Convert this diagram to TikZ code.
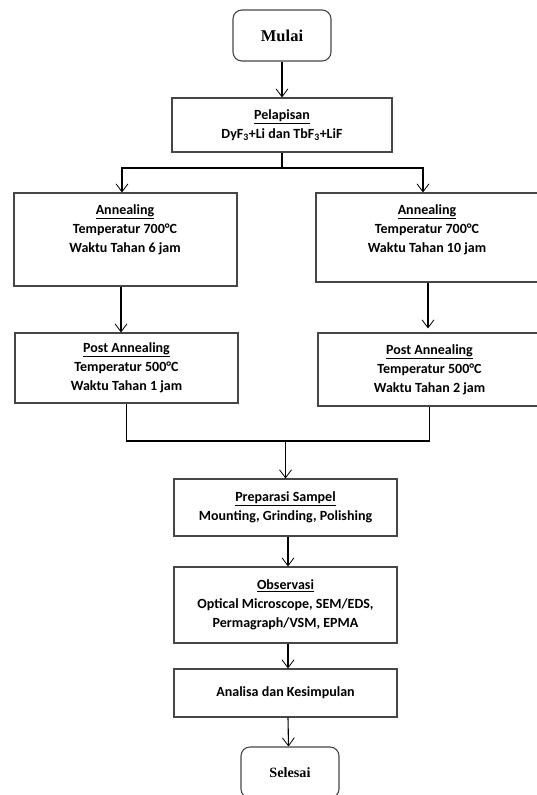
\documentclass[tikz,border=0pt]{standalone}
\usepackage{fontspec}
\setmainfont{Carlito}
\newfontfamily\serifbf{Liberation Serif}
\usetikzlibrary{arrows.meta}
\definecolor{boxgray}{RGB}{70,70,70}
\begin{document}
\begin{tikzpicture}[x=1pt,y=-1pt,
  box/.style={draw=boxgray, line width=1.1pt, rectangle, inner sep=0pt,
    align=center, font=\fontsize{14}{19}\selectfont\bfseries},
  endbox/.style={box, rounded corners=9pt, minimum width=98pt, minimum height=51pt,
    font=\fontsize{15}{18}\selectfont\serifbf\bfseries},
  intxt/.style={anchor=north, align=center, inner sep=0pt,
    font=\fontsize{14}{19}\selectfont\bfseries},
  arr/.style={-{Straight Barb[length=8pt,width=12pt,line width=0.8pt]}, line width=1.1pt, black},
  conn/.style={line width=1.1pt, black}]
\useasboundingbox (0,0) rectangle (537,795);
\clip (0,0) rectangle (537,795);

% nodes
\node[endbox, font=\fontsize{16.5}{18}\selectfont\serifbf\bfseries] (mulai) at (282,35.5) {Mulai};
\node[box, minimum width=220pt, minimum height=54pt] (pel) at (282,125)
  {\underline{Pelapisan}\\DyF\textsubscript{3}+Li dan TbF\textsubscript{3}+LiF};
\node[box, minimum width=223pt, minimum height=93pt] (ann1) at (125.5,239.5) {};
\node[intxt] (ann1t) at (125,204.5)
  {\underline{Annealing}\\Temperatur 700°C\\Waktu Tahan 6 jam};
\node[box, minimum width=223pt, minimum height=89pt] (ann2) at (427.5,237.5) {};
\node[intxt] (ann2t) at (427,204.5)
  {\underline{Annealing}\\Temperatur 700°C\\Waktu Tahan 10 jam};
\node[box, minimum width=223pt, minimum height=70pt] (post1) at (126.5,368)
  {\underline{Post Annealing}\\Temperatur 500°C\\Waktu Tahan 1 jam};
\node[box, minimum width=223pt, minimum height=73pt] (post2) at (429.5,369.5)
  {\underline{Post Annealing}\\Temperatur 500°C\\Waktu Tahan 2 jam};
\node[box, minimum width=223pt, minimum height=57pt] (prep) at (285.5,507.5)
  {\underline{Preparasi Sampel}\\Mounting, Grinding, Polishing};
\node[box, minimum width=223pt, minimum height=76pt] (obs) at (285.5,605)
  {\underline{Observasi}\\Optical Microscope, SEM/EDS,\\Permagraph/VSM, EPMA};
\node[box, minimum width=223pt, minimum height=48pt] (ana) at (285.5,693)
  {Analisa dan Kesimpulan};
\node[endbox, font=\fontsize{14.2}{18}\selectfont\serifbf\bfseries] (sel) at (290,772.5) {Selesai};

% connectors
\coordinate (split) at (282,168);
\coordinate (mid) at (285.5,441);
\draw[arr] (mulai.south) -- (pel.north);
\draw[conn] (pel.south) -- (split);
\draw[arr] (split) -| ([xshift=-3.5pt]ann1.north);
\draw[arr] (split) -| ([xshift=-4.5pt]ann2.north);
\draw[arr] ([xshift=-4.5pt]ann1.south) -- ([xshift=-5.5pt]post1.north);
\draw[arr, shorten >=4pt] ([xshift=0.5pt]ann2.south) -- ([xshift=-1.5pt]post2.north);
\draw[conn] (post1.south) -- (post1.south |- mid) -- (post2.south |- mid) -- (post2.south);
\draw[arr] (mid) -- (prep.north);
\draw[arr] ([xshift=2.5pt]prep.south) -- ([xshift=2.5pt]obs.north);
\draw[arr] ([xshift=2.5pt]obs.south) -- ([xshift=2.5pt]ana.north);
\draw[arr] ([xshift=2.5pt]ana.south) -- ([xshift=-1.5pt]sel.north);
\end{tikzpicture}
\end{document}
